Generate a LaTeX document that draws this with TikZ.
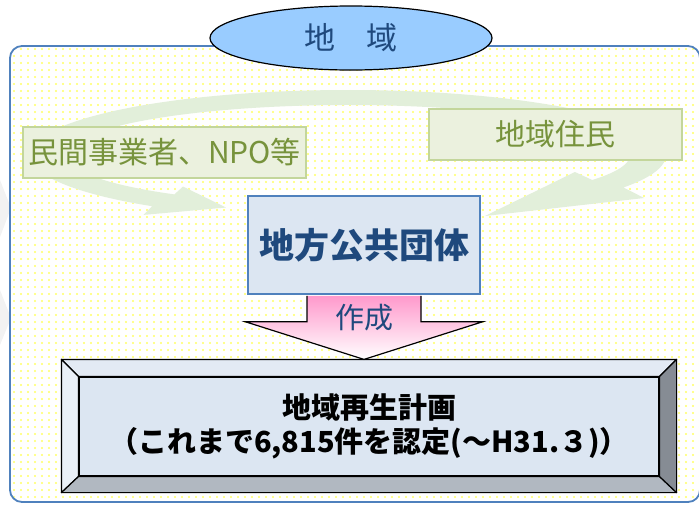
\documentclass[tikz,border=0pt]{standalone}
\usepackage{fontspec}
\newfontfamily\jpfont{Noto Sans CJK JP}
\usetikzlibrary{positioning,calc,shapes.geometric,patterns.meta}
\definecolor{areablue}{HTML}{4F81BD}
\definecolor{areaname}{HTML}{99CCFF}
\definecolor{navy}{HTML}{1F497D}
\definecolor{dotyellow}{HTML}{FFFF66}
\definecolor{leafgreen}{HTML}{77933C}
\definecolor{leafbox}{HTML}{EBF1DE}
\definecolor{leafline}{HTML}{C3D69B}
\definecolor{cyclegreen}{HTML}{E2EFDA}
\definecolor{govfill}{HTML}{DCE6F2}
\definecolor{arrowpink}{HTML}{FF99CC}
\definecolor{bevtop}{HTML}{E3EAF4}
\definecolor{bevleft}{HTML}{EAF0F8}
\definecolor{bevbottom}{HTML}{B1B8C1}
\definecolor{bevright}{HTML}{868C94}
\tikzset{
  areatag/.style={draw=black, line width=1.2pt, fill=areaname, ellipse, inner sep=0pt,
    minimum width=282, minimum height=64, text=navy, font=\jpfont\fontsize{31}{33}\selectfont},
  actor/.style={draw=leafline, line width=1.6pt, fill=leafbox, text=leafgreen, inner sep=0pt,
    font=\jpfont\fontsize{30}{32}\selectfont},
  gov/.style={draw=areablue, line width=1.6pt, fill=govfill, text=navy, inner sep=0pt,
    minimum width=232, minimum height=98, font=\jpfont\bfseries\fontsize{35}{37}\selectfont},
  plan/.style={draw=black, line width=1.2pt, fill=govfill, align=center, inner sep=0pt,
    minimum width=580, minimum height=99, font=\jpfont\bfseries\fontsize{29}{34}\selectfont},
  bevel/.style={draw=black, line width=1.2pt, line join=round}
}
\begin{document}
\begin{tikzpicture}[x=1pt,y=1pt]
\useasboundingbox (0,0) rectangle (699,-504);
% faint shapes at the left edge
\fill[black!5] (0,-180) -- (11,-208) -- (0,-237) -- cycle;
\fill[black!5] (0,-290) -- (11,-318) -- (0,-345) -- cycle;
% region
\path[draw=areablue, line width=1.8pt, rounded corners=12pt, preaction={fill=white},
  pattern={Dots[distance=7pt,radius=1.1pt]}, pattern color=dotyellow] (10,-46) rectangle (700,-502);
% cycle
\coordinate (ring) at (348,-155);
\fill[cyclegreen] ($(ring)+(232:318 and 65)$) arc[start angle=232, end angle=-30, x radius=318, y radius=65]
  -- ($(ring)+(-30:342 and 86)$) -- (485,-216) -- ($(ring)+(-30:262 and 34)$)
  -- ($(ring)+(-30:282 and 50)$) arc[start angle=-30, end angle=232, x radius=282, y radius=50]
  -- ($(ring)+(232:268 and 40)$) -- ($(ring)+(246:300 and 57.5)$) -- ($(ring)+(232:332 and 76)$) -- cycle;

\node[areatag] (area) at (351,-38) {地　域};
\node[actor, minimum width=283, minimum height=51] (biz) at (164.5,-152.5) {民間事業者、NPO等};
\node[actor, minimum width=253, minimum height=51] (resident) at (555.5,-134.5) {地域住民};
\node[gov] (body) at (364,-245) {地方公共団体};
\node[plan] (plan) at (369,-426.5) {地域再生計画\\（これまで6,815件を認定(〜H31.３)）};

% bevel
\path[bevel, fill=bevtop] (plan.north west) -- ++(-17,17) -- ($(plan.north east)+(17,17)$) -- (plan.north east) -- cycle;
\path[bevel, fill=bevleft] (plan.north west) -- ++(-17,17) -- ($(plan.south west)+(-17,-16)$) -- (plan.south west) -- cycle;
\path[bevel, fill=bevbottom] (plan.south west) -- ++(-17,-16) -- ($(plan.south east)+(17,-16)$) -- (plan.south east) -- cycle;
\path[bevel, fill=bevright] (plan.north east) -- ++(17,17) -- ($(plan.south east)+(17,-16)$) -- (plan.south east) -- cycle;

% arrow
\path[top color=arrowpink, bottom color=white, draw=black, line width=1.2pt, line join=miter]
  ($(body.south)+(-57,-1)$) -- ++(0,-26) -- ++(-61.5,0) -- ($(body.south |- plan.north)+(0,17)$)
  -- ($(body.south)+(118.5,-27)$) -- ++(-61.5,0) -- ++(0,26);
\node[text=navy, font=\jpfont\fontsize{29}{31}\selectfont] (make) at ($(body.south)+(0,-23)$) {作成};
\end{tikzpicture}
\end{document}
